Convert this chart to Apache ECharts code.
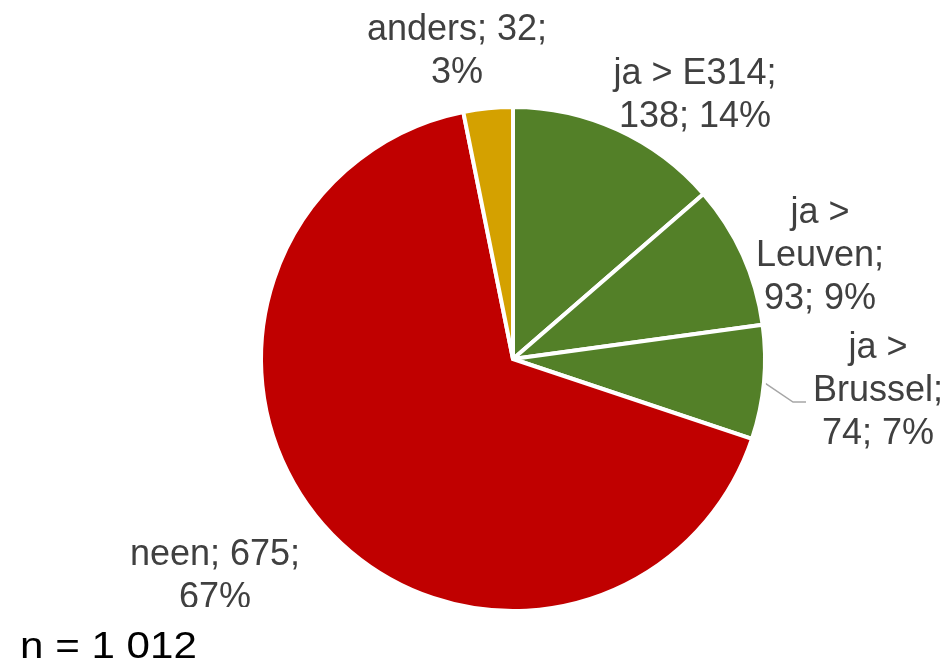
<!DOCTYPE html>
<html>
<head>
<meta charset="utf-8">
<script src="https://cdn.jsdelivr.net/npm/echarts@6/dist/echarts.min.js"></script>
<style>html,body{margin:0;padding:0;background:#fff}#c{width:951px;height:661px}</style>
</head>
<body>
<div id="c"></div>
<script>
// Data (clockwise from 12 o'clock)
const categories = ['ja > E314', 'ja > Leuven', 'ja > Brussel', 'neen', 'anders'];
const values = [138, 93, 74, 675, 32];
const colors = ['#538028', '#538028', '#538028', '#C00000', '#D4A100'];
const sampleNote = 'n = 1 012';
// how each label wraps: 'name' = break after name, 'split' = "ja >" / rest, 'value' = break after value
const labelWrap = ['name', 'split', 'split', 'value', 'value'];
// label block centres (layout only)
const labelCenters = [[695, 96], [820, 256], [878, 391], [215, 577], [457, 52]];

const chart = echarts.init(document.getElementById('c'), null, {renderer: 'canvas'});
const FONT = '"Liberation Sans", Arial, sans-serif';

const option = {
  animation: false,
  backgroundColor: '#ffffff',
  series: [{
    type: 'pie',
    center: [513, 359],
    radius: 252,
    startAngle: 90,
    clockwise: true,
    percentPrecision: 0,
    avoidLabelOverlap: false,
    itemStyle: {borderColor: '#ffffff', borderWidth: 4},
    label: {
      show: true,
      position: 'outside',
      color: '#404040',
      fontFamily: FONT,
      fontSize: 36,
      lineHeight: 43,
      align: 'center',
      formatter: function (p) {
        const w = labelWrap[p.dataIndex];
        if (w === 'name') return p.name + ';\n' + p.value + '; ' + p.percent + '%';
        if (w === 'split') {
          const i = p.name.indexOf('>');
          return p.name.slice(0, i + 1) + '\n' + p.name.slice(i + 2) + ';\n' + p.value + '; ' + p.percent + '%';
        }
        return p.name + '; ' + p.value + ';\n' + p.percent + '%';
      }
    },
    labelLine: {show: false},
    labelLayout: function (params) {
      const c = labelCenters[params.dataIndex];
      const res = {x: c[0], y: c[1], align: 'center', verticalAlign: 'middle'};
      if (params.dataIndex === 2 && params.labelLinePoints) {
        const s = params.labelLinePoints[0];
        res.labelLinePoints = [s, [c[0] - 85, c[1] + 11], [c[0] - 72, c[1] + 11]];
      }
      return res;
    },
    data: categories.map((name, i) => ({
      name: name,
      value: values[i],
      itemStyle: {color: colors[i]},
      labelLine: i === 2 ? {show: true, length: 10, length2: 10, lineStyle: {color: '#A6A6A6', width: 1.5}} : {show: false}
    }))
  }],
  graphic: [
    {type: 'rect', z: 100, shape: {x: 0, y: 607, width: 420, height: 60}, style: {fill: '#ffffff'}},
    {type: 'text', z: 101, x: 20, y: 630, scaleX: 1.17,
     style: {text: sampleNote, font: '36px ' + FONT, fill: '#000000', verticalAlign: 'top'}}
  ]
};
chart.setOption(option);
</script>
</body>
</html>
